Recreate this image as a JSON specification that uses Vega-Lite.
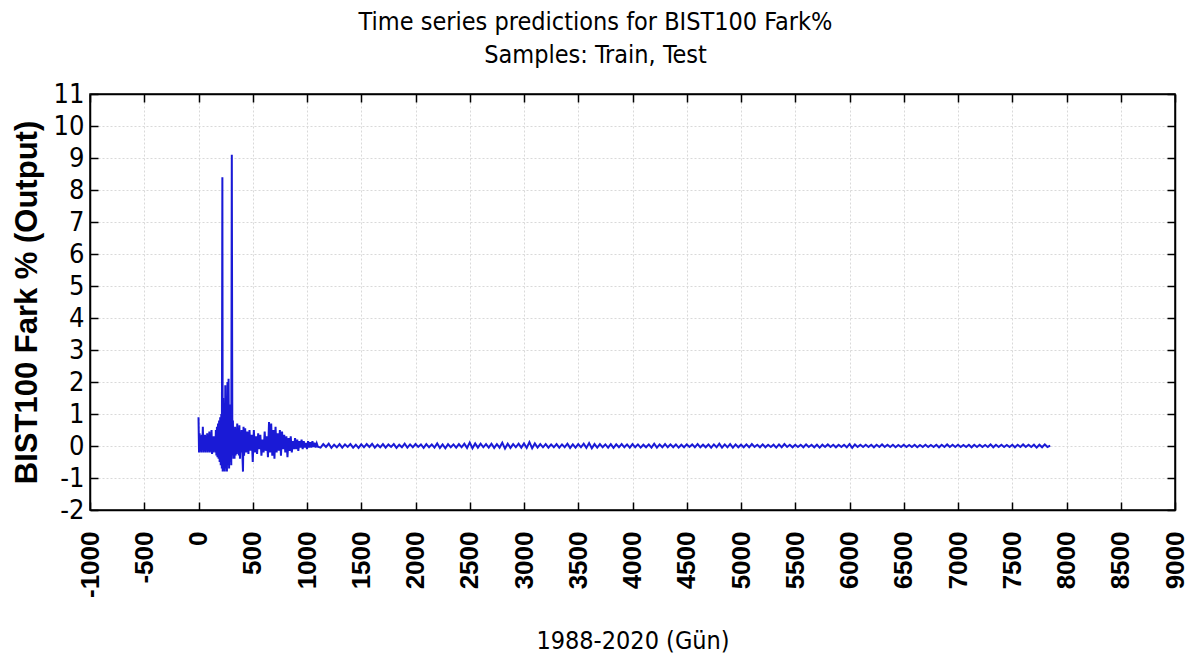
{
  "$schema": "https://vega.github.io/schema/vega-lite/v6.json",
  "autosize": "none",
  "width": 1085,
  "height": 416,
  "padding": {"left": 90, "top": 94, "right": 17, "bottom": 151},
  "background": "white",
  "config": {
    "view": {"stroke": "black", "strokeWidth": 1.5},
    "font": "DejaVu Sans Condensed, Liberation Sans Narrow, sans-serif"
  },
  "title": {
    "text": ["Time series predictions for BIST100 Fark%", "Samples: Train, Test"],
    "font": "DejaVu Sans Condensed, Liberation Sans Narrow, sans-serif",
    "fontSize": 25,
    "fontWeight": "normal",
    "color": "black",
    "lineHeight": 33,
    "anchor": "middle",
    "dx": -37,
    "offset": 12
  },
  "data": {
    "values": [
      {"t": 0, "v": 0.9}, {"t": 5, "v": -0.2}, {"t": 10, "v": 0.4}, {"t": 15, "v": -0.15}, {"t": 20, "v": 0.3},
      {"t": 25, "v": -0.2}, {"t": 30, "v": 0.35}, {"t": 35, "v": -0.1}, {"t": 40, "v": 0.6}, {"t": 45, "v": -0.2},
      {"t": 50, "v": 0.25}, {"t": 55, "v": -0.15}, {"t": 60, "v": 0.35}, {"t": 65, "v": -0.2}, {"t": 70, "v": 0.3},
      {"t": 75, "v": -0.1}, {"t": 80, "v": 0.4}, {"t": 85, "v": -0.2}, {"t": 90, "v": 0.35}, {"t": 95, "v": -0.15},
      {"t": 100, "v": 0.45}, {"t": 105, "v": -0.2}, {"t": 110, "v": 0.3}, {"t": 115, "v": -0.15}, {"t": 120, "v": 0.5},
      {"t": 125, "v": -0.25}, {"t": 130, "v": 0.2}, {"t": 135, "v": -0.2}, {"t": 140, "v": 0.3}, {"t": 145, "v": -0.15},
      {"t": 150, "v": 0.25}, {"t": 155, "v": -0.2}, {"t": 160, "v": 0.5}, {"t": 165, "v": -0.3}, {"t": 170, "v": 0.6},
      {"t": 175, "v": -0.35}, {"t": 180, "v": 0.7}, {"t": 185, "v": -0.4}, {"t": 190, "v": 0.8}, {"t": 195, "v": -0.5},
      {"t": 200, "v": 0.9}, {"t": 205, "v": -0.6}, {"t": 210, "v": 1.0}, {"t": 215, "v": -0.7}, {"t": 220, "v": 8.4},
      {"t": 223, "v": -0.8}, {"t": 227, "v": 1.5}, {"t": 232, "v": -0.75}, {"t": 237, "v": 1.2}, {"t": 242, "v": -0.8},
      {"t": 247, "v": 1.9}, {"t": 252, "v": -0.7}, {"t": 257, "v": 1.4}, {"t": 262, "v": -0.8}, {"t": 267, "v": 2.0},
      {"t": 272, "v": -0.6}, {"t": 277, "v": 2.1}, {"t": 282, "v": -0.7}, {"t": 287, "v": 1.3}, {"t": 292, "v": -0.5},
      {"t": 297, "v": 1.0}, {"t": 302, "v": -0.6}, {"t": 307, "v": 9.1}, {"t": 312, "v": -0.3}, {"t": 317, "v": 0.8},
      {"t": 322, "v": -0.4}, {"t": 327, "v": 0.5}, {"t": 332, "v": -0.4}, {"t": 337, "v": 0.6}, {"t": 342, "v": -0.3},
      {"t": 347, "v": 0.55}, {"t": 352, "v": -0.25}, {"t": 357, "v": 0.7}, {"t": 362, "v": -0.2}, {"t": 367, "v": 0.5},
      {"t": 372, "v": -0.3}, {"t": 377, "v": 0.65}, {"t": 382, "v": -0.4}, {"t": 387, "v": 0.4}, {"t": 392, "v": -0.2},
      {"t": 397, "v": 0.5}, {"t": 405, "v": -0.3}, {"t": 410, "v": -0.8}, {"t": 415, "v": 0.6},
      {"t": 420, "v": -0.3}, {"t": 430, "v": 0.55}, {"t": 440, "v": -0.2}, {"t": 450, "v": 0.45}, {"t": 460, "v": -0.25},
      {"t": 470, "v": 0.5}, {"t": 480, "v": -0.15}, {"t": 490, "v": 0.35}, {"t": 500, "v": -0.5}, {"t": 510, "v": 0.5},
      {"t": 520, "v": -0.2}, {"t": 530, "v": 0.3}, {"t": 540, "v": -0.25}, {"t": 550, "v": 0.4}, {"t": 560, "v": -0.1},
      {"t": 570, "v": 0.35}, {"t": 580, "v": -0.3}, {"t": 590, "v": 0.2}, {"t": 600, "v": -0.2}, {"t": 610, "v": 0.45},
      {"t": 620, "v": -0.15}, {"t": 630, "v": 0.3}, {"t": 640, "v": -0.35}, {"t": 650, "v": 0.75}, {"t": 660, "v": -0.2},
      {"t": 670, "v": 0.7}, {"t": 680, "v": -0.3}, {"t": 690, "v": 0.5}, {"t": 700, "v": -0.4}, {"t": 710, "v": 0.6},
      {"t": 720, "v": -0.2}, {"t": 730, "v": 0.4}, {"t": 740, "v": -0.15}, {"t": 750, "v": 0.5}, {"t": 760, "v": -0.3},
      {"t": 770, "v": 0.45}, {"t": 780, "v": -0.1}, {"t": 790, "v": 0.35}, {"t": 800, "v": -0.2}, {"t": 810, "v": 0.3},
      {"t": 820, "v": -0.35}, {"t": 830, "v": 0.25}, {"t": 840, "v": -0.15}, {"t": 850, "v": 0.3}, {"t": 860, "v": -0.2},
      {"t": 870, "v": 0.15}, {"t": 880, "v": -0.1}, {"t": 890, "v": 0.25}, {"t": 900, "v": -0.1}, {"t": 910, "v": 0.2},
      {"t": 920, "v": -0.15}, {"t": 930, "v": 0.15}, {"t": 940, "v": -0.05}, {"t": 950, "v": 0.2}, {"t": 960, "v": -0.1},
      {"t": 970, "v": 0.15}, {"t": 980, "v": -0.05}, {"t": 990, "v": 0.1}, {"t": 1000, "v": -0.1}, {"t": 1010, "v": 0.15},
      {"t": 1020, "v": -0.05}, {"t": 1030, "v": 0.12}, {"t": 1040, "v": -0.05}, {"t": 1050, "v": 0.15}, {"t": 1060, "v": -0.03},
      {"t": 1070, "v": 0.1}, {"t": 1080, "v": -0.05}, {"t": 1090, "v": 0.08}, {"t": 1100, "v": -0.02},
      {"t": 1125, "v": -0.05}, {"t": 1150, "v": 0.06}, {"t": 1175, "v": -0.03}, {"t": 1200, "v": 0.07}, {"t": 1225, "v": -0.06}, {"t": 1250, "v": 0.04}, {"t": 1275, "v": -0.04}, {"t": 1300, "v": 0.06}, {"t": 1325, "v": -0.05}, {"t": 1350, "v": 0.05},
      {"t": 1375, "v": -0.03}, {"t": 1400, "v": 0.06}, {"t": 1425, "v": -0.05}, {"t": 1450, "v": 0.04}, {"t": 1475, "v": -0.06}, {"t": 1500, "v": 0.05}, {"t": 1525, "v": -0.04}, {"t": 1550, "v": 0.06}, {"t": 1575, "v": -0.03}, {"t": 1600, "v": 0.07},
      {"t": 1625, "v": -0.05}, {"t": 1650, "v": 0.04}, {"t": 1675, "v": -0.04}, {"t": 1700, "v": 0.06}, {"t": 1725, "v": -0.05}, {"t": 1750, "v": 0.05}, {"t": 1775, "v": -0.03}, {"t": 1800, "v": 0.06}, {"t": 1825, "v": -0.06}, {"t": 1850, "v": 0.04},
      {"t": 1875, "v": -0.04}, {"t": 1900, "v": 0.07}, {"t": 1925, "v": -0.05}, {"t": 1950, "v": 0.05}, {"t": 1975, "v": -0.04}, {"t": 2000, "v": 0.06}, {"t": 2025, "v": -0.03}, {"t": 2050, "v": 0.05}, {"t": 2075, "v": -0.06}, {"t": 2100, "v": 0.06},
      {"t": 2125, "v": -0.04}, {"t": 2150, "v": 0.05}, {"t": 2175, "v": -0.05}, {"t": 2200, "v": 0.08}, {"t": 2225, "v": -0.06}, {"t": 2250, "v": 0.05}, {"t": 2275, "v": -0.07}, {"t": 2300, "v": 0.06}, {"t": 2325, "v": -0.04}, {"t": 2350, "v": 0.05},
      {"t": 2375, "v": -0.05}, {"t": 2400, "v": 0.06}, {"t": 2425, "v": -0.04}, {"t": 2450, "v": 0.07}, {"t": 2475, "v": -0.06}, {"t": 2500, "v": 0.11}, {"t": 2525, "v": -0.07}, {"t": 2550, "v": 0.08}, {"t": 2575, "v": -0.05}, {"t": 2600, "v": 0.07},
      {"t": 2625, "v": -0.04}, {"t": 2650, "v": 0.06}, {"t": 2675, "v": -0.05}, {"t": 2700, "v": 0.07}, {"t": 2725, "v": -0.06}, {"t": 2750, "v": 0.06}, {"t": 2775, "v": -0.05}, {"t": 2800, "v": 0.1}, {"t": 2825, "v": -0.08}, {"t": 2850, "v": 0.07},
      {"t": 2875, "v": -0.06}, {"t": 2900, "v": 0.06}, {"t": 2925, "v": -0.04}, {"t": 2950, "v": 0.07}, {"t": 2975, "v": -0.05}, {"t": 3000, "v": 0.08}, {"t": 3025, "v": -0.06}, {"t": 3050, "v": 0.12}, {"t": 3075, "v": -0.07}, {"t": 3100, "v": 0.08},
      {"t": 3125, "v": -0.05}, {"t": 3150, "v": 0.06}, {"t": 3175, "v": -0.04}, {"t": 3200, "v": 0.06}, {"t": 3225, "v": -0.05}, {"t": 3250, "v": 0.05}, {"t": 3275, "v": -0.04}, {"t": 3300, "v": 0.06}, {"t": 3325, "v": -0.05}, {"t": 3350, "v": 0.05},
      {"t": 3375, "v": -0.04}, {"t": 3400, "v": 0.07}, {"t": 3425, "v": -0.06}, {"t": 3450, "v": 0.05}, {"t": 3475, "v": -0.05}, {"t": 3500, "v": 0.06}, {"t": 3525, "v": -0.04}, {"t": 3550, "v": 0.07}, {"t": 3575, "v": -0.06}, {"t": 3600, "v": 0.09},
      {"t": 3625, "v": -0.07}, {"t": 3650, "v": 0.06}, {"t": 3675, "v": -0.05}, {"t": 3700, "v": 0.06}, {"t": 3725, "v": -0.04}, {"t": 3750, "v": 0.05}, {"t": 3775, "v": -0.05}, {"t": 3800, "v": 0.06}, {"t": 3825, "v": -0.06}, {"t": 3850, "v": 0.05},
      {"t": 3875, "v": -0.04}, {"t": 3900, "v": 0.06}, {"t": 3925, "v": -0.04}, {"t": 3950, "v": 0.05}, {"t": 3975, "v": -0.05}, {"t": 4000, "v": 0.06}, {"t": 4025, "v": -0.04}, {"t": 4050, "v": 0.05}, {"t": 4075, "v": -0.05}, {"t": 4100, "v": 0.04},
      {"t": 4125, "v": -0.04}, {"t": 4150, "v": 0.05}, {"t": 4175, "v": -0.05}, {"t": 4200, "v": 0.07}, {"t": 4225, "v": -0.05}, {"t": 4250, "v": 0.05}, {"t": 4275, "v": -0.04}, {"t": 4300, "v": 0.06}, {"t": 4325, "v": -0.04}, {"t": 4350, "v": 0.05},
      {"t": 4375, "v": -0.04}, {"t": 4400, "v": 0.05}, {"t": 4425, "v": -0.05}, {"t": 4450, "v": 0.04}, {"t": 4475, "v": -0.04}, {"t": 4500, "v": 0.05}, {"t": 4525, "v": -0.03}, {"t": 4550, "v": 0.05}, {"t": 4575, "v": -0.04}, {"t": 4600, "v": 0.06},
      {"t": 4625, "v": -0.04}, {"t": 4650, "v": 0.04}, {"t": 4675, "v": -0.04}, {"t": 4700, "v": 0.05}, {"t": 4725, "v": -0.05}, {"t": 4750, "v": 0.05}, {"t": 4775, "v": -0.04}, {"t": 4800, "v": 0.07}, {"t": 4825, "v": -0.05}, {"t": 4850, "v": 0.05},
      {"t": 4875, "v": -0.04}, {"t": 4900, "v": 0.06}, {"t": 4925, "v": -0.05}, {"t": 4950, "v": 0.05}, {"t": 4975, "v": -0.04}, {"t": 5000, "v": 0.04}, {"t": 5025, "v": -0.04}, {"t": 5050, "v": 0.05}, {"t": 5075, "v": -0.04}, {"t": 5100, "v": 0.06},
      {"t": 5125, "v": -0.03}, {"t": 5150, "v": 0.04}, {"t": 5175, "v": -0.04}, {"t": 5200, "v": 0.05}, {"t": 5225, "v": -0.04}, {"t": 5250, "v": 0.04}, {"t": 5275, "v": -0.03}, {"t": 5300, "v": 0.04}, {"t": 5325, "v": -0.05}, {"t": 5350, "v": 0.05},
      {"t": 5375, "v": -0.04}, {"t": 5400, "v": 0.06}, {"t": 5425, "v": -0.03}, {"t": 5450, "v": 0.04}, {"t": 5475, "v": -0.04}, {"t": 5500, "v": 0.04}, {"t": 5525, "v": -0.03}, {"t": 5550, "v": 0.04}, {"t": 5575, "v": -0.04}, {"t": 5600, "v": 0.05},
      {"t": 5625, "v": -0.03}, {"t": 5650, "v": 0.04}, {"t": 5675, "v": -0.04}, {"t": 5700, "v": 0.04}, {"t": 5725, "v": -0.05}, {"t": 5750, "v": 0.04}, {"t": 5775, "v": -0.03}, {"t": 5800, "v": 0.05}, {"t": 5825, "v": -0.03}, {"t": 5850, "v": 0.04},
      {"t": 5875, "v": -0.04}, {"t": 5900, "v": 0.04}, {"t": 5925, "v": -0.03}, {"t": 5950, "v": 0.04}, {"t": 5975, "v": -0.04}, {"t": 6000, "v": 0.06}, {"t": 6025, "v": -0.06}, {"t": 6050, "v": 0.05}, {"t": 6075, "v": -0.03}, {"t": 6100, "v": 0.04},
      {"t": 6125, "v": -0.03}, {"t": 6150, "v": 0.04}, {"t": 6175, "v": -0.03}, {"t": 6200, "v": 0.04}, {"t": 6225, "v": -0.04}, {"t": 6250, "v": 0.04}, {"t": 6275, "v": -0.03}, {"t": 6300, "v": 0.05}, {"t": 6325, "v": -0.03}, {"t": 6350, "v": 0.04},
      {"t": 6375, "v": -0.03}, {"t": 6400, "v": 0.04}, {"t": 6425, "v": -0.04}, {"t": 6450, "v": 0.03}, {"t": 6475, "v": -0.03}, {"t": 6500, "v": 0.04}, {"t": 6525, "v": -0.03}, {"t": 6550, "v": 0.03}, {"t": 6575, "v": -0.03}, {"t": 6600, "v": 0.04},
      {"t": 6625, "v": -0.04}, {"t": 6650, "v": 0.03}, {"t": 6675, "v": -0.03}, {"t": 6700, "v": 0.04}, {"t": 6725, "v": -0.03}, {"t": 6750, "v": 0.03}, {"t": 6775, "v": -0.03}, {"t": 6800, "v": 0.04}, {"t": 6825, "v": -0.04}, {"t": 6850, "v": 0.04},
      {"t": 6875, "v": -0.03}, {"t": 6900, "v": 0.05}, {"t": 6925, "v": -0.03}, {"t": 6950, "v": 0.04}, {"t": 6975, "v": -0.03}, {"t": 7000, "v": 0.04}, {"t": 7025, "v": -0.03}, {"t": 7050, "v": 0.03}, {"t": 7075, "v": -0.03}, {"t": 7100, "v": 0.04},
      {"t": 7125, "v": -0.04}, {"t": 7150, "v": 0.04}, {"t": 7175, "v": -0.03}, {"t": 7200, "v": 0.04}, {"t": 7225, "v": -0.03}, {"t": 7250, "v": 0.03}, {"t": 7275, "v": -0.03}, {"t": 7300, "v": 0.05}, {"t": 7325, "v": -0.04}, {"t": 7350, "v": 0.04},
      {"t": 7375, "v": -0.03}, {"t": 7400, "v": 0.04}, {"t": 7425, "v": -0.03}, {"t": 7450, "v": 0.03}, {"t": 7475, "v": -0.03}, {"t": 7500, "v": 0.04}, {"t": 7525, "v": -0.04}, {"t": 7550, "v": 0.04}, {"t": 7575, "v": -0.03}, {"t": 7600, "v": 0.05},
      {"t": 7625, "v": -0.03}, {"t": 7650, "v": 0.04}, {"t": 7675, "v": -0.03}, {"t": 7700, "v": 0.04}, {"t": 7725, "v": -0.05}, {"t": 7750, "v": 0.04}, {"t": 7775, "v": -0.04}, {"t": 7800, "v": 0.05}, {"t": 7825, "v": -0.03}, {"t": 7850, "v": 0.01}
    ]
  },
  "resolve": {"axis": {"x": "independent", "y": "independent"}},
  "layer": [
    {
      "mark": {"type": "line", "color": "#1a1ad6", "strokeWidth": 2, "interpolate": "linear"},
      "encoding": {
        "x": {
          "field": "t", "type": "quantitative",
          "scale": {"domain": [-1000, 9000], "nice": false, "zero": false},
          "axis": {
            "values": [-1000, -500, 0, 500, 1000, 1500, 2000, 2500, 3000, 3500, 4000, 4500, 5000, 5500, 6000, 6500, 7000, 7500, 8000, 8500, 9000],
            "labelExpr": "'' + datum.value",
            "title": "1988-2020 (Gün)",
            "titleFont": "DejaVu Sans Condensed, Liberation Sans Narrow, sans-serif",
            "titleFontSize": 25, "titleFontWeight": "normal", "titleColor": "black", "titlePadding": 31,
            "labelFont": "Liberation Sans, Arial, sans-serif",
            "labelFontSize": 26, "labelFontWeight": "bold", "labelColor": "black",
            "labelAngle": -90, "labelAlign": "right", "labelBaseline": "middle", "labelPadding": 29,
            "labelOverlap": false, "labelFlush": false,
            "tickSize": -8, "tickColor": "black", "tickWidth": 1.5,
            "domainColor": "black", "domainWidth": 1.5,
            "grid": true, "gridColor": "#d9d9d9", "gridDash": [2, 2], "gridWidth": 1
          }
        },
        "y": {
          "field": "v", "type": "quantitative",
          "scale": {"domain": [-2, 11], "nice": false, "zero": false},
          "axis": {
            "values": [-2, -1, 0, 1, 2, 3, 4, 5, 6, 7, 8, 9, 10, 11],
            "labelExpr": "'' + datum.value",
            "title": "BIST100 Fark % (Output)",
            "titleFont": "Liberation Sans, Arial, sans-serif",
            "titleFontSize": 31, "titleFontWeight": "bold", "titleColor": "black", "titlePadding": 10,
            "labelFont": "DejaVu Sans Condensed, Liberation Sans Narrow, sans-serif",
            "labelFontSize": 27, "labelColor": "black", "labelPadding": 14,
            "labelOverlap": false, "labelFlush": false,
            "tickSize": -8, "tickColor": "black", "tickWidth": 1.5,
            "domainColor": "black", "domainWidth": 1.5,
            "grid": true, "gridColor": "#d9d9d9", "gridDash": [2, 2], "gridWidth": 1
          }
        }
      }
    },
    {
      "mark": {"type": "line", "opacity": 0},
      "encoding": {
        "x": {
          "field": "t", "type": "quantitative",
          "scale": {"domain": [-1000, 9000], "nice": false, "zero": false},
          "axis": {
            "orient": "top", "values": [-1000, -500, 0, 500, 1000, 1500, 2000, 2500, 3000, 3500, 4000, 4500, 5000, 5500, 6000, 6500, 7000, 7500, 8000, 8500, 9000],
            "labels": false, "title": null, "grid": false,
            "tickSize": -8, "tickColor": "black", "tickWidth": 1.5,
            "domainColor": "black", "domainWidth": 1.5
          }
        },
        "y": {
          "field": "v", "type": "quantitative",
          "scale": {"domain": [-2, 11], "nice": false, "zero": false},
          "axis": {
            "orient": "right", "values": [-2, -1, 0, 1, 2, 3, 4, 5, 6, 7, 8, 9, 10, 11],
            "labels": false, "title": null, "grid": false,
            "tickSize": -8, "tickColor": "black", "tickWidth": 1.5,
            "domainColor": "black", "domainWidth": 1.5
          }
        }
      }
    }
  ]
}
